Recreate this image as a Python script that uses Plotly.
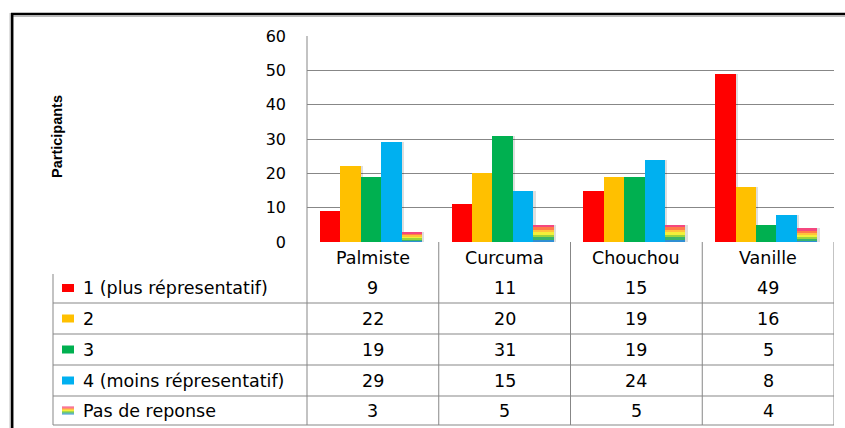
import plotly.graph_objects as go

# Survey results: how representative each product is
categories = ["Palmiste", "Curcuma", "Chouchou", "Vanille"]
series_names = ["1 (plus répresentatif)", "2", "3", "4 (moins répresentatif)", "Pas de reponse"]
rank1 = [9, 11, 15, 49]
rank2 = [22, 20, 19, 16]
rank3 = [19, 31, 19, 5]
rank4 = [29, 15, 24, 8]
no_answer = [3, 5, 5, 4]
y_ticks = [0, 10, 20, 30, 40, 50, 60]

series_values = [rank1, rank2, rank3, rank4, no_answer]
colors = ["#ff0000", "#ffc000", "#00b050", "#00b0f0", None]
rainbow = ["#2f8fd3", "#3ab56a", "#9cd43c", "#f2f03a", "#ffc23b", "#ff7c48", "#f4477f"]

W, H = 845, 428
L, R, T, B = 307, 834, 36, 242          # plot area in pixels
FONT = "DejaVu Sans"
TABLE_SIZE = 17.5
GRID = "#878787"


def px(p):
    return (p - L) / (R - L)


def py(p):
    return (B - p) / (B - T)


xs = list(range(len(categories)))
bar_w = 0.155
group_shift = -0.015
offsets = [group_shift + (k - 2.5) * bar_w for k in range(5)]

fig = go.Figure()

# soft drop shadow behind each bar
for k, vals in enumerate(series_values):
    fig.add_trace(go.Bar(
        x=xs, y=vals, offset=offsets[k] + 0.018, width=bar_w,
        marker=dict(color="rgba(0,0,0,0.13)", line=dict(width=0)),
        showlegend=False, hoverinfo="skip"))

for k, vals in enumerate(series_values):
    if colors[k] is not None:
        fig.add_trace(go.Bar(
            x=xs, y=vals, offset=offsets[k], width=bar_w, name=series_names[k],
            marker=dict(color=colors[k], line=dict(width=0)), showlegend=False))
    else:
        # gradient-like fill built from thin horizontal bands of the same bar
        n = len(rainbow)
        for j, c in enumerate(rainbow):
            fig.add_trace(go.Bar(
                x=xs, y=[v / n for v in vals], base=[v * j / n for v in vals],
                offset=offsets[k], width=bar_w, name=series_names[k],
                marker=dict(color=c, line=dict(width=0)), showlegend=False,
                hoverinfo="skip" if j else None))

shapes = []
annotations = []


def label(x, y, text, xref="paper", xanchor="center", size=TABLE_SIZE, **kw):
    annotations.append(dict(x=x, y=y, xref=xref, yref="paper", text=text,
                            xanchor=xanchor, yanchor="middle", showarrow=False,
                            font=dict(family=kw.pop("family", FONT), size=size, color="black"),
                            **kw))


# outer frame
shapes.append(dict(type="line", xref="paper", yref="paper", x0=px(11), x1=px(W + 5),
                   y0=py(14), y1=py(14), line=dict(color="black", width=2.5)))
shapes.append(dict(type="line", xref="paper", yref="paper", x0=px(12), x1=px(W + 5),
                   y0=py(16.2), y1=py(16.2), line=dict(color="#9a9a9a", width=1)))
shapes.append(dict(type="line", xref="paper", yref="paper", x0=px(12.2), x1=px(12.2),
                   y0=py(13), y1=py(H + 5), line=dict(color="black", width=2.5)))
shapes.append(dict(type="line", xref="paper", yref="paper", x0=px(10.2), x1=px(10.2),
                   y0=py(13), y1=py(H + 5), line=dict(color="#9a9a9a", width=1)))

# data table grid
row_lines = [303, 334, 365, 396, 425]
table_bottom = 425
for yl in row_lines:
    shapes.append(dict(type="line", xref="paper", yref="paper", x0=px(53), x1=1,
                       y0=py(yl), y1=py(yl), line=dict(color=GRID, width=1)))
shapes.append(dict(type="line", xref="paper", yref="paper", x0=px(53), x1=px(53),
                   y0=py(274), y1=py(table_bottom), line=dict(color=GRID, width=1)))
shapes.append(dict(type="line", xref="paper", yref="paper", x0=0, x1=0,
                   y0=1, y1=py(table_bottom), line=dict(color=GRID, width=1)))
for i in xs:
    shapes.append(dict(type="line", xref="x", yref="paper", x0=i + 0.5, x1=i + 0.5,
                       y0=0, y1=py(table_bottom), line=dict(color=GRID, width=1)))

# category header row
for i, c in enumerate(categories):
    label(i, py(258), c, xref="x")

# table rows: legend key, label, values
row_centers = [288, 318.5, 349.5, 380.5, 410.5]
for k, name in enumerate(series_names):
    yc = row_centers[k]
    if colors[k] is not None:
        shapes.append(dict(type="rect", xref="paper", yref="paper", x0=px(62), x1=px(74),
                           y0=py(yc - 4), y1=py(yc + 4), fillcolor=colors[k],
                           line=dict(width=0)))
    else:
        n = len(rainbow)
        for j, c in enumerate(rainbow):
            shapes.append(dict(type="rect", xref="paper", yref="paper", x0=px(62), x1=px(74),
                               y0=py(yc + 4 - 8 * j / n), y1=py(yc + 4 - 8 * (j + 1) / n),
                               fillcolor=c, line=dict(width=0)))
    label(px(81), py(yc), name, xanchor="left")
    for i, v in enumerate(series_values[k]):
        label(i, py(yc), str(v), xref="x")

# y axis title
label(px(57), py(137), "<b>Participants</b>", size=14.5, family="Liberation Sans", textangle=-90)

fig.update_layout(
    width=W, height=H,
    margin=dict(l=L, r=W - R, t=T, b=H - B, pad=0),
    paper_bgcolor="white", plot_bgcolor="white",
    barmode="overlay", bargap=0,
    showlegend=False,
    xaxis=dict(range=[-0.5, 3.5], showticklabels=False, showgrid=False, zeroline=False,
               showline=False, fixedrange=True),
    yaxis=dict(range=[0, 60], tickvals=y_ticks, showgrid=True, gridcolor=GRID, gridwidth=1,
               zeroline=False, showline=False, ticks="", ticklabelstandoff=20,
               tickfont=dict(family=FONT, size=16, color="black")),
    shapes=shapes, annotations=annotations,
)

fig.write_html("out.html")
